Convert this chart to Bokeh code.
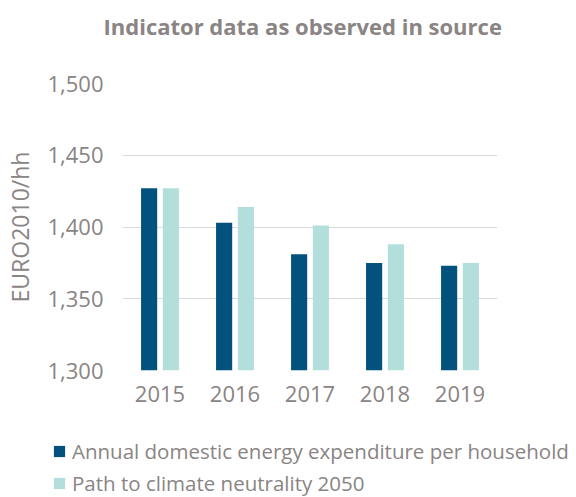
from bokeh.plotting import figure
from bokeh.layouts import column
from bokeh.models import (ColumnDataSource, Range1d, FactorRange, NumeralTickFormatter, FixedTicker,
                          Legend, LegendItem, Title)
from bokeh.transform import dodge
from bokeh.embed import file_html
from bokeh.resources import INLINE

years = ["2015", "2016", "2017", "2018", "2019"]
expenditure = [1427, 1403, 1381, 1375, 1373]
climate_path = [1427, 1414, 1401, 1388, 1375]
y_ticks = [1300, 1350, 1400, 1450, 1500]
series_names = ["Annual domestic energy expenditure per household", "Path to climate neutrality 2050"]
chart_title = "Indicator data as observed in source"
y_label = "EURO2010/hh"

DARK = "#02527D"
LIGHT = "#B2DFDB"
GRAY = "#8A8484"
FONT = "Open Sans"
W = 576

src = ColumnDataSource(dict(year=years, exp=expenditure, path=climate_path))


def strip(h, top=0, **kw):
    f = figure(width=W, height=h, output_backend="svg", toolbar_location=None,
               x_axis_location=None, y_axis_location=None,
               min_border_left=0, min_border_right=0, min_border_top=top, min_border_bottom=0, **kw)
    f.outline_line_color = None
    f.grid.grid_line_color = None
    return f


# title strip
p0 = strip(41, top=40)
p0.add_layout(Title(text=chart_title, align="left", offset=103, standoff=0,
                    text_font=FONT, text_font_size="22px", text_font_style="bold",
                    text_color=GRAY), "above")

# main chart
x_rng = FactorRange(*years)
y_rng = Range1d(1300, 1500)
p = figure(x_range=x_rng, y_range=y_rng,
           width=W, height=379, output_backend="svg", toolbar_location=None,
           min_border_left=122, min_border_right=79, min_border_top=42, min_border_bottom=50)
p.outline_line_color = None

r1 = p.vbar(x=dodge("year", -0.145, range=x_rng), top="exp", bottom=1300, width=0.215,
            source=src, fill_color=DARK, line_color=None)
r2 = p.vbar(x=dodge("year", 0.145, range=x_rng), top="path", bottom=1300, width=0.215,
            source=src, fill_color=LIGHT, line_color=None)

p.xgrid.grid_line_color = None
p.ygrid.grid_line_color = "#D9D9D9"
p.ygrid.grid_line_width = 1.2
p.yaxis.ticker = FixedTicker(ticks=y_ticks)
p.yaxis.formatter = NumeralTickFormatter(format="0,0")
for ax in (p.xaxis, p.yaxis):
    ax.axis_line_color = None
    ax.major_tick_line_color = None
    ax.minor_tick_line_color = None
    ax.major_tick_out = 0
    ax.major_tick_in = 0
    ax.major_label_text_font = FONT
    ax.major_label_text_font_size = "22px"
    ax.major_label_text_color = GRAY
p.yaxis.major_label_standoff = 19
p.xaxis.major_label_standoff = 15
p.yaxis.axis_label = y_label
p.yaxis.axis_label_text_font = FONT
p.yaxis.axis_label_text_font_size = "23px"
p.yaxis.axis_label_text_font_style = "normal"
p.yaxis.axis_label_text_color = GRAY
p.yaxis.axis_label_standoff = 8

# legend strip: its bars have zero width and height, so only the legend shows
p2 = strip(77, x_range=x_rng, y_range=Range1d(1300, 1500))
l1 = p2.vbar(x=dodge("year", -0.145, range=x_rng), top="exp", bottom="exp", width=0,
             source=src, fill_color=DARK, line_color=None)
l2 = p2.vbar(x=dodge("year", 0.145, range=x_rng), top="path", bottom="path", width=0,
             source=src, fill_color=LIGHT, line_color=None)

legend = Legend(items=[LegendItem(label=series_names[0], renderers=[l1]),
                       LegendItem(label=series_names[1], renderers=[l2])],
                location=(52, 0), orientation="vertical",
                glyph_width=14, glyph_height=14, label_standoff=6,
                label_text_font=FONT, label_text_font_size="20.5px", label_text_color=GRAY,
                label_height=20, spacing=4, padding=0, margin=0,
                border_line_color=None, background_fill_alpha=0)
p2.add_layout(legend, "center")

for f in (p0, p, p2):
    if "frame_align" in f.properties():
        f.frame_align = False

open("out.html", "w").write(file_html(column(p0, p, p2, spacing=0), INLINE))
